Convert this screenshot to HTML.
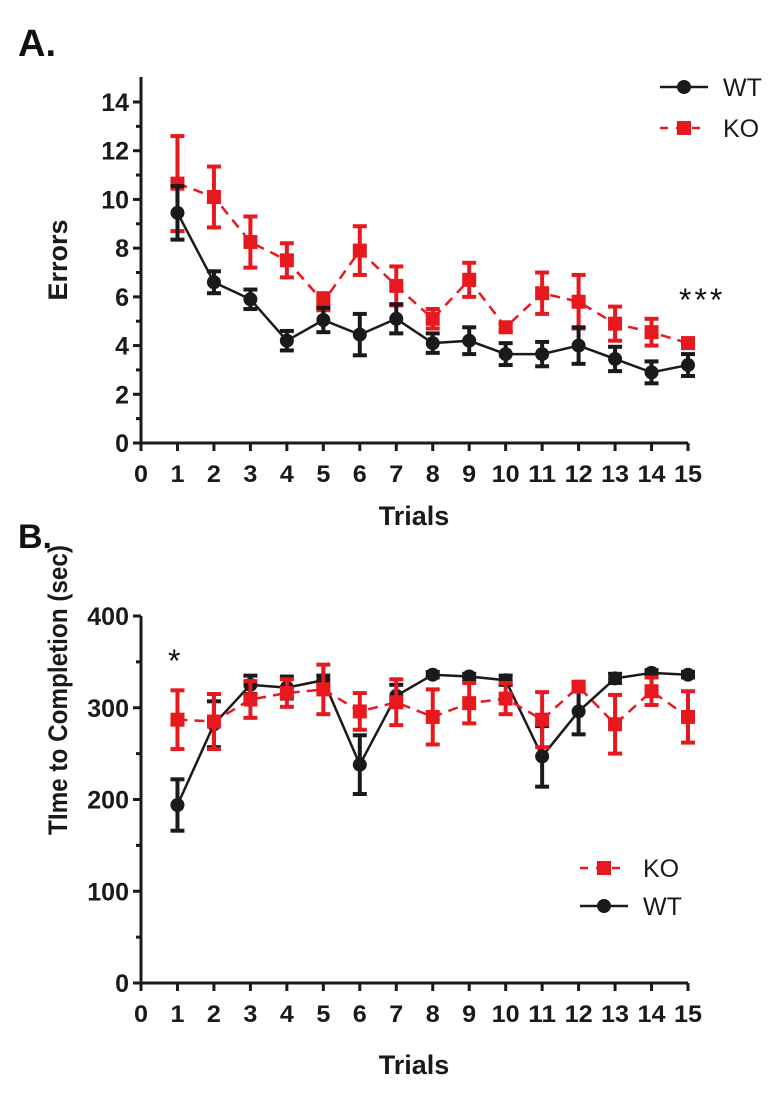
<!DOCTYPE html>
<html><head><meta charset="utf-8"><style>
body{margin:0;background:#fff}
svg{display:block;font-family:"Liberation Sans",Arial,sans-serif}
</style></head><body>
<svg id="s" width="783" height="1102" xmlns="http://www.w3.org/2000/svg"></svg>
<script>
const trials=[1,2,3,4,5,6,7,8,9,10,11,12,13,14,15];
const errWT=[9.45,6.6,5.9,4.2,5.05,4.45,5.1,4.1,4.2,3.65,3.65,4.0,3.45,2.9,3.2];
const errWTsem=[1.1,0.45,0.4,0.4,0.5,0.85,0.6,0.4,0.55,0.45,0.5,0.75,0.5,0.45,0.45];
const errKO=[10.65,10.1,8.25,7.5,5.8,7.9,6.45,5.1,6.7,4.75,6.15,5.8,4.9,4.55,4.1];
const errKOsem=[1.95,1.25,1.05,0.7,0.35,1.0,0.8,0.4,0.7,0.15,0.85,1.1,0.7,0.55,0.2];
const timeWT=[194,282,325,322,330,238,313,336,334,330,247,296,332,338,336];
const timeWTsem=[28,25,10,12,5,32,12,3,3,5,33,25,5,3,3];
const timeKO=[287,285,309,316,320,296,306,290,305,310,287,323,282,318,290];
const timeKOsem=[32,30,20,15,27,20,25,30,22,17,30,3,32,15,28];
const xTicks=[0,1,2,3,4,5,6,7,8,9,10,11,12,13,14,15];
const yTicksA=[0,2,4,6,8,10,12,14];
const yTicksB=[0,100,200,300,400];

const S=document.getElementById('s');const NS='http://www.w3.org/2000/svg';
function mk(t,a,p,txt){const e=document.createElementNS(NS,t);for(const k in a)e.setAttribute(k,a[k]);if(txt!==undefined)e.textContent=txt;(p||S).appendChild(e);return e;}
const X=v=>141+v*(688-141)/15;

function panel(cfg){
  const g=mk('g',{});
  
  
  const Y=v=>cfg.y0+(cfg.yTop-cfg.y0)*v/cfg.ymax;
  const ax=mk('path',{d:`M141 ${cfg.axTop} V${cfg.y0} H${X(15)}`,stroke:'#1a1a1a','stroke-width':3,fill:'none'},g);
  
  cfg.yt.forEach(v=>{mk('line',{x1:133,x2:141,y1:Y(v),y2:Y(v),stroke:'#1a1a1a','stroke-width':3},g);
    const t=mk('text',{x:129,y:Y(v)+9,'text-anchor':'end','font-size':25,'font-weight':'bold',fill:'#1a1a1a'},g,String(v));
    });
  for(let v=cfg.minor;v<cfg.ymax;v+=cfg.minor*2)mk('line',{x1:136,x2:141,y1:Y(v),y2:Y(v),stroke:'#1a1a1a','stroke-width':3},g);
  xTicks.forEach(v=>{mk('line',{x1:X(v),x2:X(v),y1:cfg.y0,y2:cfg.y0+8,stroke:'#1a1a1a','stroke-width':3},g);
    const t=mk('text',{x:X(v),y:cfg.y0+39,'text-anchor':'middle','font-size':24,'font-weight':'bold',fill:'#1a1a1a','textLength':v>=10?28:14,'lengthAdjust':'spacingAndGlyphs'},g,String(v));
    });
  const xt=mk('text',{x:414,y:cfg.xtY,'text-anchor':'middle','font-size':27,'font-weight':'bold',fill:'#1a1a1a'},g,'Trials');
  
  const ya={transform:`translate(67 ${cfg.ytY}) rotate(-90)`,'text-anchor':'middle','font-size':27,'font-weight':'bold',fill:'#1a1a1a'};
  if(cfg.ytLen){ya.textLength=cfg.ytLen;ya.lengthAdjust='spacingAndGlyphs';}
  const yt=mk('text',ya,g,cfg.ytitle);
  
  function series(vals,sem,col,dash,shape,nm){
    const sg=mk('g',{},g);
    trials.forEach((t,i)=>{const x=X(t),a=Y(vals[i]+sem[i]),b=Y(vals[i]-sem[i]);
      mk('line',{x1:x,x2:x,y1:a,y2:b,stroke:col,'stroke-width':4},sg);
      mk('line',{x1:x-7,x2:x+7,y1:a,y2:a,stroke:col,'stroke-width':4},sg);
      mk('line',{x1:x-7,x2:x+7,y1:b,y2:b,stroke:col,'stroke-width':4},sg);});
    mk('polyline',{points:trials.map((t,i)=>X(t)+','+Y(vals[i])).join(' '),stroke:col,'stroke-width':2.5,fill:'none','stroke-dasharray':dash},sg);
    trials.forEach((t,i)=>{const x=X(t),y=Y(vals[i]);
      const m=shape==='c'?mk('circle',{cx:x,cy:y,r:7,fill:col},sg):mk('rect',{x:x-7,y:y-7,width:14,height:14,fill:col},sg);
      });
  }
  cfg.order.forEach(o=>o==='ko'?series(cfg.ko,cfg.kos,'#e8191e','10,7','s','series-ko'):series(cfg.wt,cfg.wts,'#1a1a1a','','c','series-wt'));
  cfg.legend.forEach(([lab,ly])=>{const lg=mk('g',{},g);
    const lx=cfg.lx;
    if(lab==='WT'){mk('line',{x1:lx,x2:lx+48,y1:ly,y2:ly,stroke:'#1a1a1a','stroke-width':2.5},lg);mk('circle',{cx:lx+24,cy:ly,r:7,fill:'#1a1a1a'},lg);}
    else{mk('line',{x1:lx,x2:lx+48,y1:ly,y2:ly,stroke:'#e8191e','stroke-width':2.5,'stroke-dasharray':'8,8'},lg);mk('rect',{x:lx+17,y:ly-7,width:14,height:14,fill:'#e8191e'},lg);}
    mk('text',{x:lx+63,y:ly+9,'font-size':25,fill:'#1a1a1a'},lg,lab);});
}
panel({name:'panel-a-errors',y0:443,yTop:102,ymax:14,axTop:77,minor:1,yt:yTicksA,xtY:525,ytY:260,ytitle:'Errors',
  wt:errWT,wts:errWTsem,ko:errKO,kos:errKOsem,order:['ko','wt'],lx:660,legend:[['WT',87],['KO',128]]});
panel({name:'panel-b-time',y0:983,yTop:616,ymax:400,axTop:616,minor:50,yt:yTicksB,xtY:1074,ytY:690,ytitle:'TIme to Completion (sec)',ytLen:290,
  wt:timeWT,wts:timeWTsem,ko:timeKO,kos:timeKOsem,order:['wt','ko'],lx:580,legend:[['KO',868],['WT',906]]});
let t;
t=mk('text',{x:18,y:56,'font-size':38,'font-weight':'bold',fill:'#111'},S,'A.');
t=mk('text',{x:18,y:548,'font-size':34,'font-weight':'bold',fill:'#111'},S,'B.');
t=mk('text',{x:679,y:311,'font-size':32,fill:'#111','letter-spacing':'3'},S,'***');
t=mk('text',{x:168,y:672,'font-size':32,fill:'#111'},S,'*');
</script>
</body></html>
